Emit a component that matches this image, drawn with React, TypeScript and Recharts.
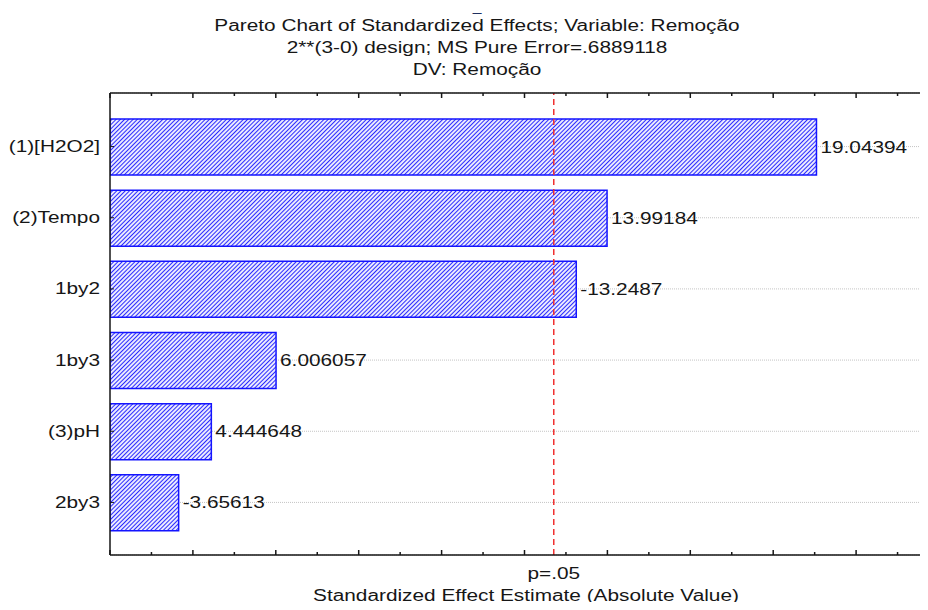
import React from "react";
import {
  BarChart,
  Bar,
  XAxis,
  YAxis,
  CartesianGrid,
  ReferenceLine,
  LabelList,
} from "recharts";

// effects, biggest first (signed values as printed on the chart)
const categories = ["(1)[H2O2]", "(2)Tempo", "1by2", "1by3", "(3)pH", "2by3"];
const effects = [19.04394, 13.99184, -13.2487, 6.006057, 4.444648, -3.65613];
const xTicks = [2, 3, 4, 5, 6, 7, 8, 9, 10, 11, 12, 13, 14, 15, 16, 17, 18, 19, 20, 21, 22];
const pCritical = 12.706;
const pLabel = "p=.05";
const titleLines = [
  "Pareto Chart of Standardized Effects; Variable: Remoção",
  "2**(3-0) design; MS Pure Error=.6889118",
  "DV: Remoção",
];
const xLabel = "Standardized Effect Estimate (Absolute Value)";

const data = categories.map((name, i) => ({
  name,
  abs: Math.abs(effects[i]),
  label: String(effects[i]),
}));

const FONT = "'Liberation Sans', Arial, sans-serif";
const INK = "#161616";
const SX = 1.3; // the source picture is stretched sideways

function StretchText({ x, y, anchor, children }: any) {
  return (
    <text
      transform={`translate(${x} ${y}) scale(${SX} 1)`}
      textAnchor={anchor}
      fontSize={16}
      fontFamily={FONT}
      fill={INK}
    >
      {children}
    </text>
  );
}

function CategoryTick(props: any) {
  const { x, y, payload } = props;
  return (
    <g>
      <line x1={x + 10} x2={x + 14} y1={y} y2={y} stroke={INK} strokeWidth={1} />
      <StretchText x={x} y={y + 5.5} anchor="end">
        {payload.value}
      </StretchText>
    </g>
  );
}

function BottomTick(props: any) {
  const { x, y, payload } = props;
  const len = payload.value % 2 === 0 ? 5 : 3;
  return <line x1={x} x2={x} y1={y} y2={y - len} stroke={INK} strokeWidth={1.5} />;
}

function TopTick(props: any) {
  const { x, y, payload } = props;
  const len = payload.value % 2 === 0 ? 5 : 3;
  return <line x1={x} x2={x} y1={y} y2={y + len} stroke={INK} strokeWidth={1.5} />;
}

function ValueLabel(props: any) {
  const { x, y, width, height, value } = props;
  return (
    <StretchText x={Number(x) + Number(width) + 4} y={Number(y) + Number(height) / 2 + 5.5} anchor="start">
      {value}
    </StretchText>
  );
}

function PLabel(props: any) {
  const vb = props.viewBox || {};
  return (
    <StretchText x={vb.x} y={vb.y + vb.height + 24} anchor="middle">
      {pLabel}
    </StretchText>
  );
}

const textBox: React.CSSProperties = {
  position: "absolute",
  width: 600,
  textAlign: "center",
  fontFamily: FONT,
  fontSize: 16,
  lineHeight: "22px",
  color: INK,
  transform: `scaleX(${SX})`,
  transformOrigin: "center",
  whiteSpace: "nowrap",
};

export default function App() {
  return (
    <div style={{ position: "relative", width: 928, height: 610, margin: -8, overflow: "hidden", background: "#fff" }}>
      <div style={{ ...textBox, left: 177, top: 0.5, fontSize: 12, lineHeight: "12px", color: "#203060" }}>_</div>
      <div style={{ ...textBox, left: 177, top: 15 }}>
        {titleLines.map((t) => (
          <div key={t}>{t}</div>
        ))}
      </div>
      <BarChart
        width={939}
        height={610}
        data={data}
        layout="vertical"
        margin={{ top: 92, right: 0, bottom: 54, left: 0 }}
      >
        <defs>
          <pattern id="hatch" patternUnits="userSpaceOnUse" width={3} height={3} patternTransform="rotate(45)">
            <rect width={3} height={3} fill="#ffffff" />
            <line x1={1.5} y1={0} x2={1.5} y2={3} stroke="#2b2bff" strokeWidth={1.2} />
          </pattern>
        </defs>
        <CartesianGrid horizontal vertical={false} stroke="#c4c4c4" strokeDasharray="1 1" />
        <XAxis
          type="number"
          domain={[2, 22]}
          ticks={xTicks}
          interval={0}
          allowDataOverflow
          height={1}
          tickSize={0}
          tickMargin={0}
          tickLine={false}
          tick={(p: any) => <BottomTick {...p} />}
          axisLine={{ stroke: INK, strokeWidth: 1.5 }}
        />
        <XAxis
          xAxisId="top"
          orientation="top"
          type="number"
          domain={[2, 22]}
          ticks={xTicks}
          interval={0}
          allowDataOverflow
          height={1}
          tickSize={0}
          tickMargin={0}
          tickLine={false}
          tick={(p: any) => <TopTick {...p} />}
          axisLine={{ stroke: INK, strokeWidth: 1.5 }}
        />
        <YAxis
          type="category"
          dataKey="name"
          width={110}
          interval={0}
          padding={{ top: 18, bottom: 17 }}
          tickSize={0}
          tickMargin={10}
          tickLine={false}
          tick={(p: any) => <CategoryTick {...p} />}
          axisLine={{ stroke: INK, strokeWidth: 1.5 }}
        />
        <Bar
          dataKey="abs"
          fill="url(#hatch)"
          stroke="#1414ff"
          strokeWidth={1.5}
          barSize={56}
          isAnimationActive={false}
        >
          <LabelList dataKey="label" content={(p: any) => <ValueLabel {...p} />} />
        </Bar>
        <ReferenceLine
          x={pCritical}
          stroke="#f03030"
          strokeWidth={1.5}
          strokeDasharray="6 4"
          label={(p: any) => <PLabel {...p} />}
        />
      </BarChart>
      <div style={{ ...textBox, left: 226, top: 586, lineHeight: "20px" }}>{xLabel}</div>
    </div>
  );
}
